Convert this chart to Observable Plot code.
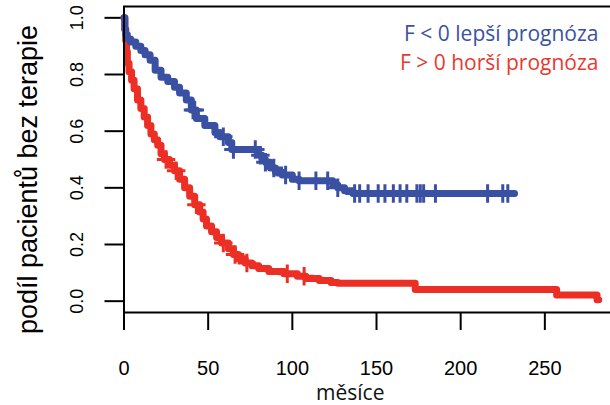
<!DOCTYPE html>
<html><head><meta charset="utf-8">
<script src="https://cdn.jsdelivr.net/npm/d3@7"></script>
<script src="https://cdn.jsdelivr.net/npm/@observablehq/plot@0.6"></script>
<style>html,body{margin:0;padding:0;background:#fff;overflow:hidden}</style>
</head><body><div id="chart"></div>
<script>
// Blue group: F < 0 (better prognosis) — Kaplan–Meier steps
const blueTime = [0, 0.5, 1, 2, 4, 7, 10, 12.5, 15.5, 18.5, 22, 26, 30, 33, 37, 40, 43, 48, 54, 57, 62, 64, 80, 82, 84, 87, 90, 94, 100, 104, 124, 127, 131, 136, 232];
const blueSurv = [1.0, 0.96, 0.94, 0.925, 0.915, 0.90, 0.885, 0.87, 0.85, 0.815, 0.79, 0.775, 0.755, 0.735, 0.71, 0.675, 0.645, 0.62, 0.595, 0.58, 0.56, 0.535, 0.515, 0.50, 0.49, 0.47, 0.455, 0.445, 0.43, 0.425, 0.41, 0.40, 0.39, 0.38, 0.38];
const blueCensor = [41, 42, 59, 65, 78, 81, 84, 89, 96, 104, 114, 121, 127, 137, 140, 145, 151, 155, 160, 164, 168, 174, 176, 178, 185, 216, 225, 228];

// Red group: F > 0 (worse prognosis)
const redTime = [0, 0.5, 1, 1.5, 2, 3, 4.5, 6, 8, 10, 12, 14, 16, 18, 20, 22, 24, 27, 30, 33, 36, 39, 42, 45, 47, 49, 52, 55, 58, 62, 65, 68, 72, 76, 80, 86, 95, 103, 108, 116, 123, 127, 173, 257, 281, 282];
const redSurv = [1.0, 0.96, 0.92, 0.88, 0.84, 0.81, 0.78, 0.75, 0.71, 0.68, 0.65, 0.62, 0.59, 0.57, 0.55, 0.52, 0.50, 0.48, 0.46, 0.43, 0.40, 0.37, 0.34, 0.315, 0.29, 0.265, 0.245, 0.225, 0.205, 0.185, 0.165, 0.15, 0.135, 0.125, 0.115, 0.105, 0.097, 0.088, 0.08, 0.073, 0.066, 0.063, 0.041, 0.022, 0.005, 0.005];
const redCensor = [25, 31, 43, 59, 66, 73, 97, 107];

const xTicks = [0, 50, 100, 150, 200, 250];
const yTicks = [0, 0.2, 0.4, 0.6, 0.8, 1.0];
const blueLabel = "F < 0 lepší prognóza";
const redLabel = "F > 0 horší prognóza";
const xTitle = "měsíce";
const yTitle = "podíl pacientů bez terapie";

const BLUE = "#3a51a3";
const RED = "#ec2f24";

function steps(times, survs) { return times.map((t, i) => ({t, s: survs[i]})); }
function censorPoints(cens, times, survs) {
  return cens.map(t => {
    const i = d3.bisectRight(times, t) - 1;
    return {t, s: survs[Math.max(0, i)]};
  });
}
const blueData = steps(blueTime, blueSurv);
const redData = steps(redTime, redSurv);
const blueC = censorPoints(blueCensor, blueTime, blueSurv);
const redC = censorPoints(redCensor, redTime, redSurv);

const chart = Plot.plot({
  width: 610,
  height: 405,
  marginLeft: 123.5,
  marginRight: 0,
  marginTop: 6,
  marginBottom: 93,
  style: {fontFamily: "'Liberation Sans', Arial, sans-serif", color: "black", background: "white"},
  x: {domain: [0, 289]},
  y: {domain: [-0.04, 1.04]},
  marks: [
    Plot.axisX({ticks: xTicks, tickSize: 18, tickPadding: 30, fontSize: 20, label: null, strokeWidth: 2, stroke: "black"}),
    Plot.axisY({ticks: yTicks, tickSize: 19, tickFormat: () => "", label: null, strokeWidth: 2, stroke: "black"}),
    Plot.text(yTicks, {y: d => d, text: d => d.toFixed(1), frameAnchor: "left", dx: -47, rotate: -90, fontSize: 18, textAnchor: "middle", lineAnchor: "middle", fill: "black"}),
    Plot.text([yTitle], {frameAnchor: "left", dx: -96, dy: 20, rotate: -90, fontSize: 27, textAnchor: "middle", lineAnchor: "middle", fill: "black"}),
    Plot.text([xTitle], {frameAnchor: "bottom", dx: -17, dy: 81, fontSize: 21, fontFamily: "'Open Sans', sans-serif", textAnchor: "middle", lineAnchor: "middle", fill: "#111"}),
    Plot.line(redData, {x: "t", y: "s", curve: "step-after", stroke: RED, strokeWidth: 7, strokeLinejoin: "round", strokeLinecap: "round"}),
    Plot.line(blueData, {x: "t", y: "s", curve: "step-after", stroke: BLUE, strokeWidth: 7, strokeLinejoin: "round", strokeLinecap: "round"}),
    Plot.dot(redC, {x: "t", y: "s", symbol: "plus", r: 6, stroke: RED, strokeWidth: 3}),
    Plot.dot(blueC, {x: "t", y: "s", symbol: "plus", r: 6, stroke: BLUE, strokeWidth: 3}),
    Plot.text([blueLabel], {frameAnchor: "top-right", dx: -12, dy: 28, textAnchor: "end", lineAnchor: "middle", fontSize: 21, fontFamily: "'Open Sans', sans-serif", fill: BLUE}),
    Plot.text([redLabel], {frameAnchor: "top-right", dx: -12, dy: 57, textAnchor: "end", lineAnchor: "middle", fontSize: 21, fontFamily: "'Open Sans', sans-serif", fill: "#e8392f"}),
    Plot.frame({stroke: "black", strokeWidth: 2, insetRight: -6})
  ]
});
document.getElementById("chart").appendChild(chart);
</script>
</body></html>
